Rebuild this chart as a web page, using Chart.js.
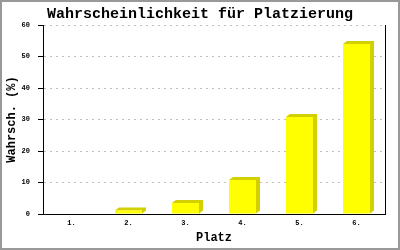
<!DOCTYPE html>
<html>
<head>
<meta charset="utf-8">
<script src="https://cdn.jsdelivr.net/npm/chart.js@4/dist/chart.umd.min.js"></script>
<style>
  html, body { margin: 0; padding: 0; background: #fff; }
  #wrap { width: 400px; height: 250px; }
</style>
</head>
<body>
<div id="wrap"><canvas id="chart" width="400" height="250"></canvas></div>
<script>
const places = ['1.', '2.', '3.', '4.', '5.', '6.'];
const chances = [0, 1.1, 3.5, 10.8, 30.8, 54];
const yTicks = [0, 10, 20, 30, 40, 50, 60];

const titleText = 'Wahrscheinlichkeit für Platzierung';
const xTitle = 'Platz';
const yTitle = 'Wahrsch. (%)';

// draws the dark "shadow" block behind every bar plus the frame, title and right axis line
const shadowBars = {
    id: 'shadowBars',
    beforeDatasetsDraw(chart) {
        const ctx = chart.ctx;
        const meta = chart.getDatasetMeta(0);
        ctx.save();
        ctx.fillStyle = '#d2d000';
        meta.data.forEach(bar => {
            const p = bar.getProps(['x', 'y', 'base', 'width'], true);
            if (Math.abs(p.base - p.y) < 0.5) return;
            const l = p.x - p.width / 2, r = p.x + p.width / 2;
            ctx.beginPath();
            ctx.moveTo(l, p.y);
            ctx.lineTo(l + 4, p.y - 3);
            ctx.lineTo(r + 4, p.y - 3);
            ctx.lineTo(r + 4, p.base - 3);
            ctx.lineTo(r, p.base);
            ctx.lineTo(r, p.y);
            ctx.closePath();
            ctx.fill();
        });
        ctx.restore();
    },
    afterDraw(chart) {
        const ctx = chart.ctx;
        const area = chart.chartArea;
        ctx.save();
        // right axis line
        ctx.strokeStyle = '#000';
        ctx.lineWidth = 1;
        ctx.beginPath();
        ctx.moveTo(Math.round(area.right) + 0.5, area.top);
        ctx.lineTo(Math.round(area.right) + 0.5, area.bottom);
        ctx.stroke();
        // frame
        ctx.strokeStyle = '#999';
        ctx.lineWidth = 2;
        ctx.strokeRect(1, 1, chart.width - 2, chart.height - 2);
        // title
        ctx.fillStyle = '#000';
        ctx.font = 'bold 15px "Liberation Mono", monospace';
        ctx.textAlign = 'center';
        ctx.textBaseline = 'alphabetic';
        ctx.fillText(titleText, chart.width / 2, 18);
        ctx.restore();
    }
};

const ctx = document.getElementById('chart').getContext('2d');
new Chart(ctx, {
    type: 'bar',
    data: {
        labels: places,
        datasets: [{
            data: chances,
            backgroundColor: '#ffff00',
            borderWidth: 0,
            categoryPercentage: 1,
            barPercentage: 0.474
        }]
    },
    options: {
        responsive: false,
        animation: false,
        devicePixelRatio: 1,
        layout: { padding: { top: 25, right: 15, bottom: 0, left: 0 } },
        plugins: {
            legend: { display: false },
            title: { display: false },
            tooltip: { enabled: false }
        },
        scales: {
            x: {
                grid: { display: false, drawTicks: false },
                border: { display: true, color: '#000', width: 1 },
                ticks: {
                    color: '#000',
                    padding: 5,
                    font: { family: 'Liberation Mono', size: 7, weight: 'bold' }
                },
                title: {
                    display: true,
                    text: xTitle,
                    color: '#000',
                    padding: { top: 0, bottom: 5 },
                    font: { family: 'Liberation Mono', size: 12, weight: 'bold', lineHeight: 1.2 }
                },
                afterFit(scale) { scale.height = 36; }
            },
            y: {
                min: yTicks[0],
                max: yTicks[yTicks.length - 1],
                afterBuildTicks(scale) {
                    scale.ticks = yTicks.map(v => ({ value: v }));
                },
                grid: {
                    color: c => (c.tick && c.tick.value === 0) ? 'rgba(0,0,0,0)' : '#c0c0c0',
                    tickColor: '#000',
                    tickLength: 5,
                    lineWidth: 1
                },
                border: { display: true, color: '#000', width: 1, dash: [2, 4] },
                ticks: {
                    color: '#000',
                    padding: 8,
                    font: { family: 'Liberation Mono', size: 7, weight: 'bold' }
                },
                title: {
                    display: true,
                    text: yTitle,
                    color: '#000',
                    padding: { top: 5, bottom: 0 },
                    font: { family: 'Liberation Mono', size: 12, weight: 'bold', lineHeight: 1.2 }
                },
                afterFit(scale) { scale.width = 43; }
            }
        }
    },
    plugins: [shadowBars]
});
</script>
</body>
</html>
